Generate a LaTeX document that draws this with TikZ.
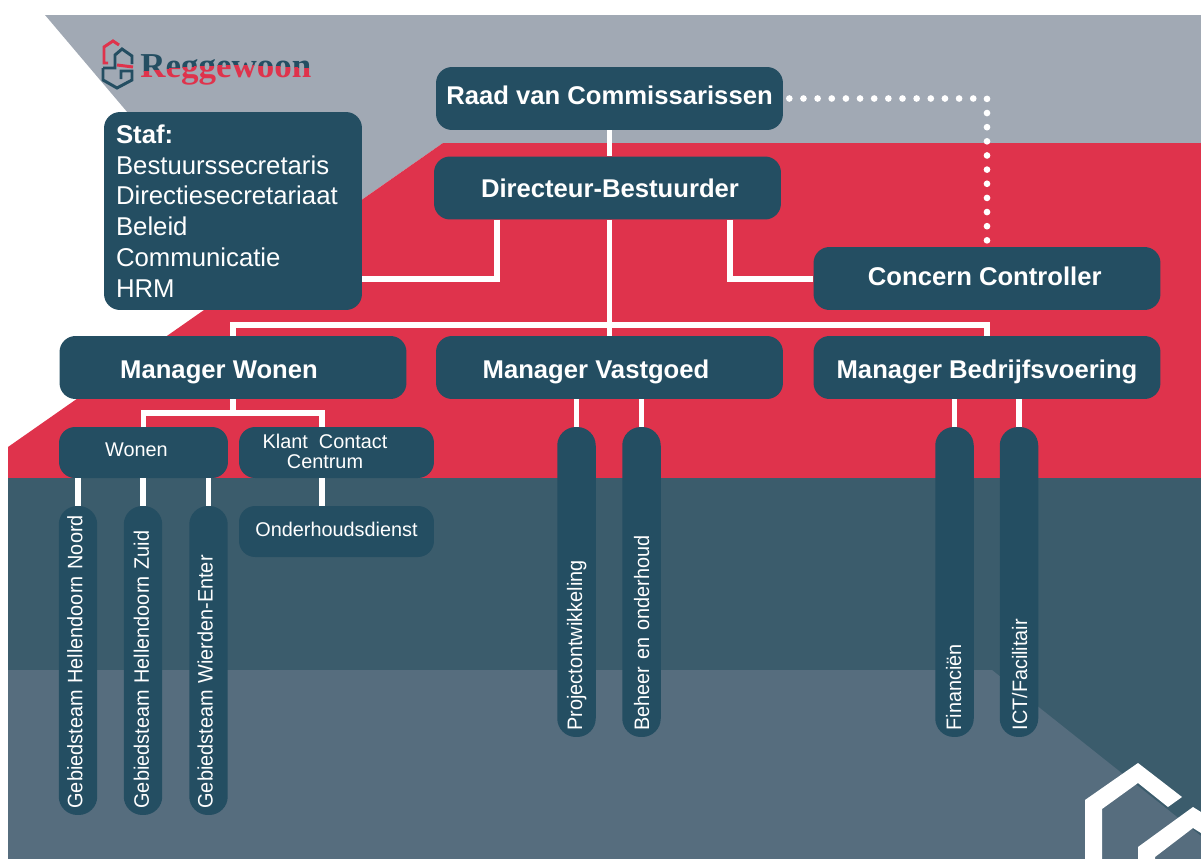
\documentclass[tikz,border=0pt]{standalone}
\usepackage{fontspec}
\setmainfont{Liberation Sans}
\newfontfamily\logofont{Liberation Serif}
\newfontfamily\pillfont[FakeStretch=0.95]{Liberation Sans}
\usetikzlibrary{positioning}

\definecolor{boxblue}{HTML}{244E62}
\definecolor{bandgray}{HTML}{A1A9B4}
\definecolor{bandred}{HTML}{DF334C}
\definecolor{banddark}{HTML}{3B5C6C}
\definecolor{bandlight}{HTML}{566D7E}

\tikzset{
    basebox/.style={fill=boxblue, text=white, rounded corners=0.32cm, inner sep=0pt, align=center},
    drop/.style={text height={0.3cm+#1}, text depth={0.3cm-#1}},
    bigbox/.style={basebox, minimum width=6.94cm, minimum height=1.26cm, font=\fontsize{14.6pt}{17.35pt}\selectfont\bfseries},
    smallbox/.style={basebox, minimum width=3.9cm, minimum height=1.02cm, font=\fontsize{11.3pt}{11.34pt}\selectfont},
    pillbox/.style={basebox, rotate=90, minimum height=0.77cm, rounded corners=0.37cm, inner xsep=0.13cm, align=left, font=\fontsize{11.9pt}{12pt}\pillfont},
    logoline/.style={line width=1.7pt},
    link/.style={draw=white, line width=3.4pt},
    dotlink/.style={draw=white, line width=3.8pt, line cap=round, dash pattern=on 0pt off 0.283cm}
}

\begin{document}
\begin{tikzpicture}[x=0.02cm,y=-0.02cm]
\useasboundingbox (0,0) rectangle (1201,859);

\fill[bandgray] (45,15) -- (1201,15) -- (1201,143) -- (443,143) -- (261,270) -- cycle;
\fill[bandred] (443,143) -- (1201,143) -- (1201,478) -- (8,478) -- (8,447) -- cycle;
\fill[banddark] (8,478) rectangle (1201,859);
\fill[bandlight] (8,670) -- (992,670) -- (1201,836) -- (1201,859) -- (8,859) -- cycle;

\fill[white] (1085,859) -- (1085,800) -- (1138,763) -- (1182,797) -- (1168,807) -- (1138,783) -- (1102,809) -- (1102,859) -- cycle;
\fill[white] (1138,859) -- (1138,847) -- (1193,807) -- (1201,812) -- (1201,833) -- (1193,828) -- (1155,857) -- (1155,859) -- cycle;

\draw[bandred, logoline] (108,63) -- (104,63) -- (104,47) -- (113,41) -- (119,45);
\draw[bandred, logoline] (117,65) -- (133,67);
\draw[boxblue, logoline] (103,68) -- (115,68) -- (115,55) -- (122,49) -- (132,56) -- (132,64);
\draw[boxblue, logoline] (103,68) -- (103,80) -- (117,88) -- (132,80) -- (132,71) -- (121,71) -- (121,79);

\begin{scope}
    \clip (130,40) -- (320,40) -- (320,69) .. controls (250,63) and (200,63) .. (130,73) -- cycle;
    \node[anchor=base west, inner sep=0pt, text=boxblue, font=\fontsize{19.9pt}{20pt}\logofont\bfseries] (logotop) at (140,77) {Reggewoon};
\end{scope}
\begin{scope}
    \clip (130,100) -- (320,100) -- (320,69) .. controls (250,63) and (200,63) .. (130,73) -- cycle;
    \node[anchor=base west, inner sep=0pt, text=bandred, font=\fontsize{19.9pt}{20pt}\logofont\bfseries] (logolow) at (140,77) {Reggewoon};
\end{scope}

\node[bigbox, drop=0.116cm] (raad) at (609.5,98.5) {Raad van Commissarissen};
\node[bigbox, drop=0.194cm] (directeur) at (607.5,188) {\hspace*{0.1cm}Directeur-Bestuurder};
\node[bigbox, drop=0.13cm] (concern) at (987,278.5) {Concern Controller\hspace*{0.09cm}};
\node[bigbox, drop=0.214cm] (mgrwonen) at (233,367.5) {Manager Wonen\hspace*{0.56cm}};
\node[bigbox, drop=0.214cm] (mgrvastgoed) at (609.5,367.5) {Manager Vastgoed\hspace*{0.54cm}};
\node[bigbox, drop=0.214cm] (mgrbedrijf) at (987,367.5) {Manager Bedrijfsvoering};

\node[basebox, minimum width=5.16cm, minimum height=3.96cm, text width=4.68cm, align=left, font=\fontsize{14.65pt}{17.5pt}\selectfont] (staf) at (233,211) {\textbf{Staf:}\\Bestuurssecretaris\\Directiesecretariaat\\Beleid\\Communicatie\\HRM};

\node[smallbox, drop=0.08cm, minimum width=3.38cm] (wonen) at (143.5,452.5) {Wonen\hspace*{0.28cm}};
\node[smallbox] (kcc) at (336.5,452.5) {Klant\ \ Contact\hspace*{0.46cm}\\Centrum\hspace*{0.46cm}\rule[-0.04cm]{0pt}{0pt}};
\node[smallbox, drop=0.09cm] (onderhoud) at (336.5,531.5) {Onderhoudsdienst};

\node[pillbox, drop=0.09cm, minimum width=6.18cm, text width=5.92cm] (gebnoord) at (78,660.5) {Gebiedsteam Hellendoorn Noord};
\node[pillbox, drop=0.12cm, minimum width=6.18cm, text width=5.92cm] (gebzuid) at (143,660.5) {Gebiedsteam Hellendoorn Zuid};
\node[pillbox, drop=0.08cm, minimum width=6.18cm, text width=5.92cm] (gebwierden) at (208.5,660.5) {Gebiedsteam Wierden-Enter};
\node[pillbox, drop=0.11cm, minimum width=6.2cm, text width=5.94cm] (project) at (576.5,582) {Projectontwikkeling};
\node[pillbox, drop=0.15cm, minimum width=6.2cm, text width=5.94cm] (beheer) at (641.5,582) {Beheer en onderhoud};
\node[pillbox, drop=0.13cm, minimum width=6.2cm, text width=5.94cm] (financien) at (954.5,582) {Financiën};
\node[pillbox, drop=0.16cm, minimum width=6.2cm, text width=5.94cm] (ict) at (1019,582) {ICT/Facilitair};

\coordinate (stafknee) at (497,279);
\coordinate (concernknee) at (730,279);
\coordinate (mainbus) at (609.5,325);
\coordinate (wonenbus) at (233,413);
\coordinate (kccdrop) at (322,413);

\draw[link] (raad.south) -- (raad.south |- directeur.north);
\draw[link] (directeur.south -| mainbus) -- (mgrvastgoed.north);
\draw[link] (directeur.south -| stafknee) -- (stafknee) -- (staf.east |- stafknee);
\draw[link] (directeur.south -| concernknee) -- (concernknee) -- (concern.west |- concernknee);
\draw[link] (mgrwonen.north) |- (mainbus) -| (mgrbedrijf.north);

\draw[link] (mgrwonen.south) -- (wonenbus);
\draw[link] (wonen.north) |- (kccdrop) -- (kcc.north -| kccdrop);
\draw[link] (kcc.south -| kccdrop) -- (onderhoud.north -| kccdrop);
\draw[link] (wonen.south -| gebnoord.east) -- (gebnoord.east);
\draw[link] (wonen.south -| gebzuid.east) -- (gebzuid.east);
\draw[link] (wonen.south -| gebwierden.east) -- (gebwierden.east);

\draw[link] (mgrvastgoed.south -| project.east) -- (project.east);
\draw[link] (mgrvastgoed.south -| beheer.east) -- (beheer.east);
\draw[link] (mgrbedrijf.south -| financien.east) -- (financien.east);
\draw[link] (mgrbedrijf.south -| ict.east) -- (ict.east);

\draw[dotlink, shorten >=0.12cm, shorten <=0.12cm] (raad.east) -| (concern.north);
\end{tikzpicture}
\end{document}
